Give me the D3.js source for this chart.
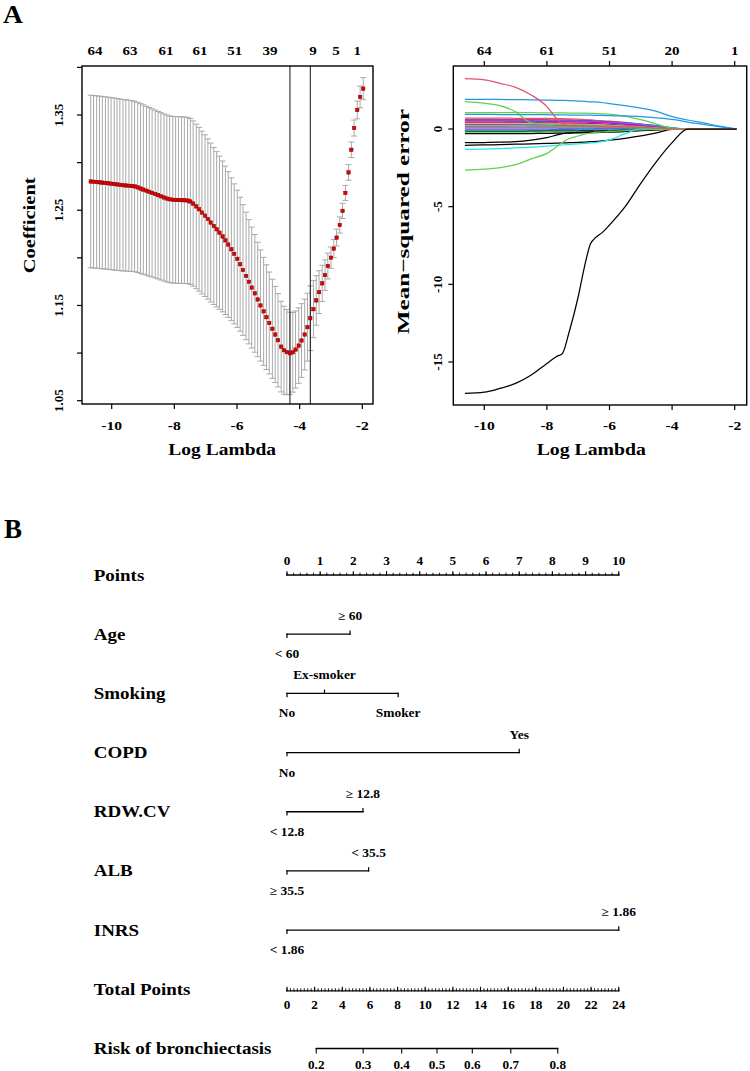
<!DOCTYPE html>
<html>
<head>
<meta charset="utf-8">
<script src="https://cdn.jsdelivr.net/npm/d3@7"></script>
<style>
  body { margin: 0; background: #fff; }
  svg { display: block; font-family: "Liberation Serif", "Times New Roman", serif; font-weight: bold; }
</style>
</head>
<body>
<div id="chart"></div>
<script>
// ---------- Panel A (left): cross-validation curve ----------
const cvLogLambda = [
  -10.67, -10.58, -10.48, -10.39, -10.30, -10.20, -10.11, -10.02, -9.92, -9.83,
  -9.74, -9.64, -9.55, -9.45, -9.36, -9.27, -9.17, -9.08, -8.99, -8.89,
  -8.80, -8.71, -8.61, -8.52, -8.43, -8.33, -8.24, -8.15, -8.05, -7.96,
  -7.87, -7.77, -7.68, -7.58, -7.49, -7.40, -7.30, -7.21, -7.12, -7.02,
  -6.93, -6.84, -6.74, -6.65, -6.56, -6.46, -6.37, -6.28, -6.18, -6.09,
  -5.99, -5.90, -5.81, -5.71, -5.62, -5.53, -5.43, -5.34, -5.25, -5.15,
  -5.06, -4.97, -4.87, -4.78, -4.69, -4.59, -4.50, -4.41, -4.31, -4.22,
  -4.13, -4.03, -3.94, -3.84, -3.75, -3.66, -3.56, -3.47, -3.38, -3.28,
  -3.19, -3.10, -3.00, -2.91, -2.82, -2.72, -2.63, -2.54, -2.44, -2.35,
  -2.26, -2.16, -2.07, -1.97
];
const cvMean = [
  1.2802, 1.2799, 1.2796, 1.2793, 1.2790, 1.2786, 1.2783, 1.2779, 1.2775, 1.2771,
  1.2767, 1.2763, 1.2760, 1.2757, 1.2754, 1.2750, 1.2740, 1.2728, 1.2717, 1.2705,
  1.2693, 1.2682, 1.2670, 1.2658, 1.2646, 1.2634, 1.2623, 1.2615, 1.2610, 1.2608,
  1.2607, 1.2606, 1.2605, 1.2602, 1.2592, 1.2570, 1.2540, 1.2510, 1.2476, 1.2443,
  1.2408, 1.2371, 1.2335, 1.2300, 1.2264, 1.2225, 1.2184, 1.2140, 1.2090, 1.2042,
  1.1990, 1.1933, 1.1872, 1.1810, 1.1749, 1.1688, 1.1627, 1.1563, 1.1500, 1.1438,
  1.1377, 1.1316, 1.1255, 1.1195, 1.1135, 1.1068, 1.1030, 1.1010, 1.0998, 1.1008,
  1.1037, 1.1079, 1.1132, 1.1195, 1.1272, 1.1366, 1.1461, 1.1553, 1.1640, 1.1732,
  1.1819, 1.1914, 1.2002, 1.2097, 1.2213, 1.2345, 1.2493, 1.2682, 1.2897, 1.3135,
  1.3363, 1.3553, 1.3690, 1.3777
];
const cvSE = [
  0.0906, 0.0906, 0.0905, 0.0905, 0.0905, 0.0904, 0.0904, 0.0903, 0.0903, 0.0902,
  0.0901, 0.0900, 0.0899, 0.0898, 0.0897, 0.0895, 0.0893, 0.0891, 0.0889, 0.0887,
  0.0885, 0.0883, 0.0881, 0.0879, 0.0878, 0.0877, 0.0876, 0.0875, 0.0875, 0.0875,
  0.0875, 0.0875, 0.0874, 0.0873, 0.0871, 0.0868, 0.0864, 0.0860, 0.0855, 0.0849,
  0.0842, 0.0834, 0.0825, 0.0815, 0.0804, 0.0792, 0.0779, 0.0765, 0.0750, 0.0735,
  0.0720, 0.0703, 0.0686, 0.0669, 0.0652, 0.0635, 0.0618, 0.0601, 0.0584, 0.0567,
  0.0550, 0.0535, 0.0520, 0.0505, 0.0490, 0.0476, 0.0462, 0.0448, 0.0432, 0.0418,
  0.0405, 0.0396, 0.0387, 0.0372, 0.0356, 0.0340, 0.0300, 0.0260, 0.0225, 0.0190,
  0.0160, 0.0135, 0.0112, 0.0095, 0.0088, 0.0085, 0.0080, 0.0079, 0.0082, 0.0082,
  0.0084, 0.0093, 0.0114, 0.0116
];
const cvLambdaLines = [-4.31, -3.66];
const cvTopLabels = ['64', '63', '61', '61', '51', '39', '9', '5', '1'];
const cvTopAt = [-10.53, -9.42, -8.27, -7.18, -6.07, -4.95, -3.57, -2.84, -2.16];
const cvYTicks = [1.05, 1.10, 1.15, 1.20, 1.25, 1.30, 1.35, 1.40];
const cvYLabels = [1.05, 1.15, 1.25, 1.35];
const logLambdaTicks = [-10, -8, -6, -4, -2];

// ---------- Panel A (right): coefficient paths ----------
const pathKnots = [-10.62, -10, -9.5, -9, -8.5, -8, -7.7, -7.5, -7.3, -7, -6.8, -6.6, -6.5,
  -6.2, -6, -5.5, -5, -4.5, -4, -3.5, -3, -2.5, -1.94];
const pathValues = [
  [0.70,0.70,0.70,0.69,0.69,0.68,0.67,0.66,0.65,0.63,0.61,0.58,0.56,0.50,0.45,0.34,0.23,0.12,0.03,0,0,0,0],
  [0.62,0.62,0.61,0.61,0.60,0.60,0.59,0.59,0.58,0.57,0.56,0.55,0.55,0.52,0.50,0.42,0.32,0.20,0.06,0,0,0,0],
  [0.58,0.58,0.58,0.57,0.57,0.56,0.56,0.55,0.55,0.54,0.53,0.52,0.51,0.48,0.46,0.39,0.31,0.21,0.08,0,0,0,0],
  [0.55,0.55,0.55,0.54,0.54,0.53,0.52,0.52,0.51,0.50,0.49,0.48,0.47,0.45,0.43,0.37,0.30,0.20,0.08,0.01,0,0,0],
  [0.50,0.50,0.50,0.49,0.49,0.48,0.47,0.47,0.46,0.45,0.44,0.43,0.43,0.40,0.38,0.30,0.22,0.12,0.02,0,0,0,0],
  [0.45,0.45,0.44,0.44,0.43,0.42,0.41,0.40,0.39,0.38,0.36,0.34,0.33,0.30,0.27,0.20,0.13,0.06,0,0,0,0,0],
  [0.40,0.40,0.40,0.39,0.39,0.38,0.38,0.37,0.37,0.36,0.35,0.34,0.34,0.32,0.30,0.24,0.17,0.09,0.01,0,0,0,0],
  [0.34,0.34,0.34,0.33,0.33,0.32,0.32,0.31,0.31,0.30,0.29,0.28,0.27,0.25,0.23,0.17,0.11,0.05,0,0,0,0,0],
  [0.30,0.30,0.30,0.30,0.29,0.29,0.28,0.28,0.27,0.27,0.26,0.25,0.25,0.23,0.21,0.16,0.10,0.04,0,0,0,0,0],
  [0.26,0.26,0.26,0.26,0.25,0.25,0.24,0.24,0.23,0.22,0.21,0.20,0.19,0.17,0.15,0.10,0.05,0.01,0,0,0,0,0],
  [0.20,0.20,0.20,0.20,0.19,0.19,0.18,0.18,0.18,0.17,0.16,0.16,0.15,0.14,0.13,0.10,0.06,0.02,0,0,0,0,0],
  [0.15,0.15,0.15,0.14,0.14,0.14,0.13,0.13,0.13,0.12,0.12,0.11,0.11,0.10,0.09,0.07,0.04,0.01,0,0,0,0,0],
  [0.10,0.10,0.10,0.10,0.10,0.09,0.09,0.09,0.09,0.08,0.08,0.08,0.07,0.06,0.06,0.04,0.02,0,0,0,0,0,0],
  [0.05,0.05,0.05,0.05,0.05,0.05,0.05,0.04,0.04,0.04,0.04,0.04,0.04,0.03,0.03,0.02,0.01,0,0,0,0,0,0],
  [-0.05,-0.05,-0.05,-0.05,-0.05,-0.05,-0.04,-0.04,-0.04,-0.04,-0.04,-0.04,-0.03,-0.03,-0.03,-0.02,-0.01,0,0,0,0,0,0],
  [-0.10,-0.10,-0.10,-0.10,-0.10,-0.09,-0.09,-0.09,-0.09,-0.08,-0.08,-0.08,-0.08,-0.07,-0.06,-0.04,-0.02,0,0,0,0,0,0],
  [-0.15,-0.15,-0.15,-0.15,-0.14,-0.14,-0.14,-0.13,-0.13,-0.13,-0.12,-0.12,-0.12,-0.11,-0.10,-0.08,-0.05,-0.02,0,0,0,0,0],
  [-0.20,-0.20,-0.20,-0.20,-0.20,-0.19,-0.19,-0.19,-0.18,-0.18,-0.17,-0.17,-0.16,-0.15,-0.14,-0.11,-0.07,-0.03,0,0,0,0,0],
  [-0.30,-0.30,-0.30,-0.30,-0.29,-0.28,-0.27,-0.27,-0.26,-0.25,-0.24,-0.23,-0.23,-0.21,-0.20,-0.16,-0.11,-0.06,-0.01,0,0,0,0],
  [-0.88,-0.87,-0.85,-0.82,-0.72,-0.55,-0.40,-0.30,-0.25,-0.22,-0.20,-0.19,-0.18,-0.16,-0.15,-0.12,-0.08,-0.04,0,0,0,0,0],
  [-1.05,-1.03,-1.00,-0.98,-0.96,-0.93,-0.91,-0.90,-0.88,-0.86,-0.84,-0.82,-0.81,-0.76,-0.72,-0.60,-0.45,-0.25,-0.02,0,0,0,0],
  [-1.31,-1.29,-1.26,-1.22,-1.17,-1.10,-1.06,-1.03,-1.00,-0.96,-0.93,-0.90,-0.88,-0.80,-0.70,-0.30,0,0,0,0,0,0,0],
  [-2.64,-2.58,-2.48,-2.30,-1.92,-1.57,-1.16,-0.86,-0.63,-0.45,-0.33,-0.26,-0.23,-0.18,-0.16,-0.10,-0.06,-0.03,0,0,0,0,0],
  [1.05,1.05,1.05,1.05,1.05,1.04,1.04,1.04,1.03,1.03,1.02,1.01,1.00,0.98,0.95,0.82,0.60,0.32,0.05,0,0,0,0],
  [1.76,1.66,1.50,1.10,0.40,0.32,0.30,0.29,0.28,0.27,0.26,0.25,0.25,0.23,0.22,0.18,0.13,0.07,0.02,0,0,0,0],
  [0.94,0.94,0.93,0.93,0.92,0.92,0.91,0.91,0.90,0.90,0.89,0.89,0.88,0.87,0.86,0.84,0.80,0.72,0.62,0.45,0.30,0.15,0],
  [1.91,1.91,1.90,1.89,1.88,1.86,1.85,1.84,1.83,1.80,1.78,1.75,1.74,1.69,1.64,1.50,1.34,1.13,0.80,0.58,0.39,0.19,0],
  [3.24,3.16,2.94,2.68,2.19,1.44,0.69,0.32,0.22,0.20,0.19,0.18,0.18,0.17,0.16,0.14,0.11,0.06,0.01,0,0,0,0],
  [-17.02,-16.94,-16.70,-16.38,-15.84,-15.09,-14.66,-14.44,-13.15,-10.80,-8.87,-7.36,-7.10,-6.61,-6.18,-5.00,-3.50,-2.10,-0.88,0,0,0,0]
];
const pathYTicks = [0, -5, -10, -15];
const dfTicks = [-10, -8, -6, -4, -2];
const dfLabels = ['64', '61', '51', '20', '1'];

// ---------- Panel B: nomogram ----------
const nomoRows = ['Points', 'Age', 'Smoking', 'COPD', 'RDW.CV', 'ALB', 'INRS', 'Total Points', 'Risk of bronchiectasis'];
const predictors = ['Age', 'Smoking', 'COPD', 'RDW.CV', 'ALB', 'INRS'];
const levelLabels = [['< 60', '≥ 60'], ['No', 'Ex-smoker', 'Smoker'], ['No', 'Yes'],
  ['< 12.8', '≥ 12.8'], ['≥ 35.5', '< 35.5'], ['< 1.86', '≥ 1.86']];
const levelPoints = [[0, 1.9], [0, 1.13, 3.35], [0, 7.0], [0, 2.29], [0, 2.46], [0, 10]];
const levelAbove = [[false, true], [false, true, false], [false, true], [false, true], [false, true], [false, true]];
const pointsTicks = [0, 1, 2, 3, 4, 5, 6, 7, 8, 9, 10];
const totalTicks = [0, 2, 4, 6, 8, 10, 12, 14, 16, 18, 20, 22, 24];
const riskTicks = [0.2, 0.3, 0.4, 0.5, 0.6, 0.7, 0.8];
const riskIntercept = -1.722;
const riskSlope = 0.1587;

// ---------- styles ----------
const pathColors = [
  '#DF536B', '#DF536B', '#CD0BBC', '#2297E6', '#CD0BBC', '#DF536B', '#CD0BBC', '#F5C710',
  '#28E2E5', '#CD0BBC', '#61D04F', '#DF536B', '#9E9E9E', '#2297E6', '#CD0BBC', '#28E2E5',
  '#000000', '#61D04F', '#000000', '#000000', '#000000', '#28E2E5', '#61D04F', '#61D04F',
  '#61D04F', '#2297E6', '#2297E6', '#DF536B', '#000000'
];

const svg = d3.select('#chart').append('svg').attr('width', 750).attr('height', 1071);

const addText = (parent, x, y, str, o = {}) => {
  const t = parent.append('text')
    .attr('transform', `translate(${x},${y})${o.rot ? ` rotate(${o.rot})` : ''} scale(${o.sx || 1},1)`)
    .attr('text-anchor', o.anchor || 'middle')
    .style('font-size', `${o.size || 12}px`)
    .attr('fill', '#000')
    .text(str);
  if (o.len) t.attr('textLength', o.len).attr('lengthAdjust', 'spacingAndGlyphs');
  return t;
};

addText(svg, 3, 23, 'A', { size: 25, anchor: 'start', sx: 1.1 });
addText(svg, 4, 538, 'B', { size: 27, anchor: 'start' });

// ===== left panel =====
const boxL = { x0: 82, x1: 373, y0: 66, y1: 404 };
const xL = d3.scaleLinear().domain([-10, -2]).range([111.7, 362.3]);
const yL = d3.scaleLinear().domain([1.05, 1.35]).range([400.7, 115]);
const gL = svg.append('g');

const cv = cvLogLambda.map((ll, i) => ({ ll, m: cvMean[i], se: cvSE[i] }));
const bars = gL.append('g').attr('stroke', '#a9a9a9').attr('stroke-width', 1);
cv.forEach(d => {
  const x = xL(d.ll), yt = yL(d.m + d.se), yb = yL(d.m - d.se);
  bars.append('line').attr('x1', x).attr('x2', x).attr('y1', yt).attr('y2', yb);
  bars.append('line').attr('x1', x - 3).attr('x2', x + 3).attr('y1', yt).attr('y2', yt);
  bars.append('line').attr('x1', x - 3).attr('x2', x + 3).attr('y1', yb).attr('y2', yb);
});
cvLambdaLines.forEach(v => {
  gL.append('line').attr('x1', xL(v)).attr('x2', xL(v)).attr('y1', boxL.y0).attr('y2', boxL.y1)
    .attr('stroke', '#111').attr('stroke-width', 1);
});
gL.append('g').selectAll('rect').data(cv).join('rect')
  .attr('x', d => xL(d.ll) - 1.7).attr('y', d => yL(d.m) - 1.7)
  .attr('width', 3.4).attr('height', 3.4)
  .attr('fill', '#e00000').attr('stroke', '#7a0000').attr('stroke-width', 0.5);
gL.append('rect').attr('x', boxL.x0).attr('y', boxL.y0)
  .attr('width', boxL.x1 - boxL.x0).attr('height', boxL.y1 - boxL.y0)
  .attr('fill', 'none').attr('stroke', '#000').attr('stroke-width', 1.4);
cvYTicks.forEach(v => {
  gL.append('line').attr('x1', boxL.x0 - 5).attr('x2', boxL.x0).attr('y1', yL(v)).attr('y2', yL(v))
    .attr('stroke', '#000').attr('stroke-width', 1.2);
});
cvYLabels.forEach(v => addText(gL, 63.3, yL(v), v.toFixed(2), { size: 13, rot: -90 }));
logLambdaTicks.forEach(v => {
  gL.append('line').attr('x1', xL(v)).attr('x2', xL(v)).attr('y1', boxL.y1).attr('y2', boxL.y1 + 5)
    .attr('stroke', '#000').attr('stroke-width', 1.2);
  addText(gL, xL(v), 430, String(v), { size: 12, sx: 1.3 });
});
cvTopLabels.forEach((lab, i) => addText(gL, xL(cvTopAt[i]), 55, lab, { size: 12.5, sx: 1.2 }));
addText(gL, 222.2, 455, 'Log Lambda', { size: 16.5, len: 107.7 });
addText(gL, 34.5, 225.3, 'Coefficient', { size: 17, rot: -90, len: 96 });

// ===== right panel =====
const boxR = { x0: 453.3, x1: 746.7, y0: 66, y1: 405 };
const xR = d3.scaleLinear().domain([-10, -2]).range([484.3, 734.7]);
const yR = d3.scaleLinear().domain([-15, 0]).range([362, 129]);
const gR = svg.append('g');
const pathLine = d3.line().x(d => xR(d[0])).y(d => yR(d[1])).curve(d3.curveMonotoneX);
pathValues.forEach((vals, i) => {
  gR.append('path').datum(pathKnots.map((k, j) => [k, vals[j]]))
    .attr('d', pathLine).attr('fill', 'none')
    .attr('stroke', pathColors[i]).attr('stroke-width', 1.25);
});
gR.append('rect').attr('x', boxR.x0).attr('y', boxR.y0)
  .attr('width', boxR.x1 - boxR.x0).attr('height', boxR.y1 - boxR.y0)
  .attr('fill', 'none').attr('stroke', '#000').attr('stroke-width', 1.4);
pathYTicks.forEach(v => {
  gR.append('line').attr('x1', boxR.x0 - 5).attr('x2', boxR.x0).attr('y1', yR(v)).attr('y2', yR(v))
    .attr('stroke', '#000').attr('stroke-width', 1.2);
  addText(gR, 441.7, yR(v), String(v), { size: 13, rot: -90 });
});
logLambdaTicks.forEach(v => {
  gR.append('line').attr('x1', xR(v)).attr('x2', xR(v)).attr('y1', boxR.y1).attr('y2', boxR.y1 + 5)
    .attr('stroke', '#000').attr('stroke-width', 1.2);
  addText(gR, xR(v), 430, String(v), { size: 12, sx: 1.3 });
});
dfTicks.forEach((v, i) => {
  gR.append('line').attr('x1', xR(v)).attr('x2', xR(v)).attr('y1', boxR.y0 - 5).attr('y2', boxR.y0)
    .attr('stroke', '#000').attr('stroke-width', 1.2);
  addText(gR, xR(v), 55, dfLabels[i], { size: 12.5, sx: 1.2 });
});
addText(gR, 591.3, 455, 'Log Lambda', { size: 16.5, len: 109.3 });
addText(gR, 409, 221.7, 'Mean\u2212squared error', { size: 17, rot: -90, len: 225 });

// ===== nomogram =====
const gB = svg.append('g').attr('stroke-linecap', 'square');
const rowY = d3.scalePoint().domain(nomoRows).range([575, 1048.5]);
const ptsX = d3.scaleLinear().domain([0, 10]).range([287, 618.75]);
const totX = d3.scaleLinear().domain([0, 24]).range([287, 618.75]);
const riskX = p => totX((Math.log(p / (1 - p)) - riskIntercept) / riskSlope);
const hline = (x1, x2, y) => gB.append('line').attr('x1', x1).attr('x2', x2).attr('y1', y).attr('y2', y)
  .attr('stroke', '#000').attr('stroke-width', 1.3);
const vline = (x, y1, y2, w = 1) => gB.append('line').attr('x1', x).attr('x2', x).attr('y1', y1).attr('y2', y2)
  .attr('stroke', '#000').attr('stroke-width', w);

nomoRows.forEach(r => addText(gB, 93.75, rowY(r) + 5.5, r, { size: 16.5, anchor: 'start', sx: 1.15 }));

// Points scale
{
  const y = rowY('Points');
  hline(ptsX(0), ptsX(10), y);
  d3.range(0, 10.001, 0.2).forEach(v => vline(ptsX(v), y - 1.8, y, 0.9));
  pointsTicks.forEach(v => {
    vline(ptsX(v), y - 3.3, y, 1.1);
    addText(gB, ptsX(v), y - 9.7, String(v), { size: 12, sx: 1.1 });
  });
}

// predictor rows
predictors.forEach((p, i) => {
  const y = rowY(p);
  const pts = levelPoints[i];
  hline(ptsX(d3.min(pts)), ptsX(d3.max(pts)), y);
  pts.forEach((v, j) => {
    const up = levelAbove[i][j];
    vline(ptsX(v), y, up ? y - 3.2 : y + 3.2, 1.2);
    addText(gB, ptsX(v), up ? y - 14 : y + 24, levelLabels[i][j], { size: 12, sx: 1.12 });
  });
});

// Total points scale
{
  const y = rowY('Total Points') + 1.5;
  hline(totX(0), totX(24), y);
  d3.range(0, 24.001, 0.25).forEach(v => vline(totX(v), y - 2, y, 0.9));
  totalTicks.forEach(v => {
    vline(totX(v), y - 3.5, y, 1.1);
    addText(gB, totX(v), y + 18, String(v), { size: 12, sx: 1.1 });
  });
}

// Risk scale
{
  const y = rowY('Risk of bronchiectasis');
  hline(riskX(riskTicks[0]), riskX(riskTicks[riskTicks.length - 1]), y);
  riskTicks.forEach(p => {
    vline(riskX(p), y, y + 4.5, 1.1);
    addText(gB, riskX(p), y + 20, p.toFixed(1), { size: 12, sx: 1.1 });
  });
}
</script>
</body>
</html>
